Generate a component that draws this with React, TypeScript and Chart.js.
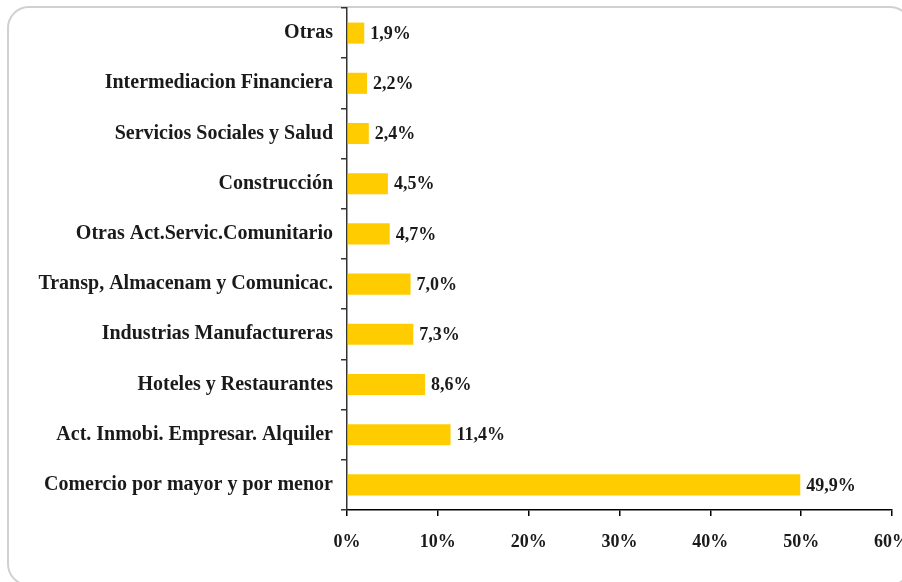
import React, { useEffect, useRef } from "react";
import { Chart, registerables } from "chart.js";

Chart.register(...registerables);

const categories = [
  "Otras",
  "Intermediacion Financiera",
  "Servicios Sociales y Salud",
  "Construcción",
  "Otras Act.Servic.Comunitario",
  "Transp, Almacenam y Comunicac.",
  "Industrias Manufactureras",
  "Hoteles y Restaurantes",
  "Act. Inmobi. Empresar. Alquiler",
  "Comercio por mayor y por menor",
];
const values = [1.9, 2.2, 2.4, 4.5, 4.7, 7.0, 7.3, 8.6, 11.4, 49.9];
const xTicks = [0, 10, 20, 30, 40, 50, 60];

const FONT = "'Liberation Serif', 'DejaVu Serif', serif";
const TEXT = "#1a1a1a";

const valueLabels = {
  id: "valueLabels",
  afterDatasetsDraw(chart: any) {
    const ctx = chart.ctx;
    const meta = chart.getDatasetMeta(0);
    ctx.save();
    ctx.font = `bold 18px ${FONT}`;
    ctx.fillStyle = TEXT;
    ctx.textAlign = "left";
    ctx.textBaseline = "middle";
    meta.data.forEach((bar: any, i: number) => {
      const label = values[i].toFixed(1).replace(".", ",") + "%";
      ctx.fillText(label, bar.x + 6, bar.y + 1);
    });
    ctx.restore();
  },
};

export default function App() {
  const ref = useRef<HTMLCanvasElement>(null);
  useEffect(() => {
    if (!ref.current) return;
    const chart = new Chart(ref.current, {
      type: "bar",
      data: {
        labels: categories,
        datasets: [
          {
            data: values,
            backgroundColor: "#FFCC00",
            borderWidth: 0,
            barPercentage: 0.42,
            categoryPercentage: 1,
          },
        ],
      },
      options: {
        indexAxis: "y",
        animation: false,
        responsive: false,
        layout: { padding: { top: 8, right: 10, left: 0, bottom: 0 } },
        plugins: {
          legend: { display: false },
          tooltip: { enabled: false },
        },
        scales: {
          x: {
            min: 0,
            max: 60,
            afterBuildTicks: (scale: any) => {
              scale.ticks = xTicks.map((v) => ({ value: v }));
            },
            afterFit: (scale: any) => {
              scale.height = 72;
              scale.paddingRight = 0;
              scale.paddingLeft = 0;
            },
            grid: {
              display: true,
              drawOnChartArea: false,
              drawTicks: true,
              tickLength: 6,
              color: "#000",
              lineWidth: 1.5,
            },
            border: { display: true, color: "#000", width: 1.5 },
            ticks: {
              color: TEXT,
              font: { family: FONT, size: 18, weight: "bold" },
              padding: 16,
              maxRotation: 0,
              callback: (v: any) => v + "%",
            },
          },
          y: {
            afterFit: (scale: any) => {
              scale.width = 347;
              scale.paddingTop = 0;
              scale.paddingBottom = 0;
            },
            grid: {
              display: true,
              offset: true,
              drawOnChartArea: false,
              drawTicks: true,
              tickLength: 6,
              color: "#333",
              lineWidth: 1.5,
            },
            border: { display: true, color: "#333", width: 1.5 },
            ticks: {
              color: TEXT,
              font: { family: FONT, size: 20, weight: "bold" },
              padding: 8,
            },
          },
        },
      },
      plugins: [valueLabels],
    });
    return () => chart.destroy();
  }, []);

  return (
    <div
      style={{
        position: "fixed",
        left: 0,
        top: 0,
        width: 902,
        height: 582,
        overflow: "hidden",
        background: "#fff",
      }}
    >
      <div
        style={{
          position: "absolute",
          left: 7,
          top: 6,
          width: 905,
          height: 580,
          border: "2px solid #d0d0d0",
          borderRadius: 22,
          boxSizing: "border-box",
        }}
      />
      <canvas
        ref={ref}
        width={902}
        height={582}
        style={{ position: "absolute", left: 0, top: 0 }}
      />
    </div>
  );
}
